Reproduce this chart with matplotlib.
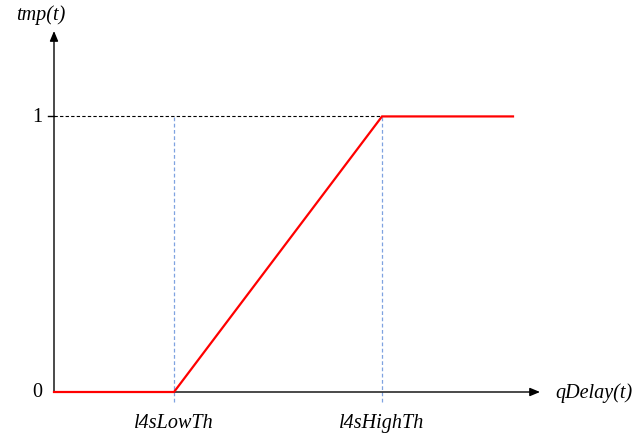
import matplotlib
matplotlib.use("Agg")
import matplotlib.pyplot as plt

# data (x in arbitrary delay units, origin at 0)
low_th = 120
high_th = 328
x_end = 459
x_axis_max = 486
y_axis_max = 1.31
curve_x = [0, low_th, high_th, x_end]
curve_y = [0, 0, 1, 1]
xtick_labels = ["l4sLowTh", "l4sHighTh"]
ytick_labels = ["0", "1"]

W, H = 634, 439
fig = plt.figure(figsize=(W / 100, H / 100), dpi=100)
left, bottom = 54 / W, 1 - 393 / H
ax = fig.add_axes([left, bottom, (540 - 54) / W, (393 - 32) / H])
ax.set_xlim(0, x_axis_max)
ax.set_ylim(0, y_axis_max)
ax.axis("off")

font = dict(family="Liberation Serif", fontsize=14.5)

# axes arrows
ax.annotate("", xy=(x_axis_max, 0), xytext=(0, 0),
            arrowprops=dict(arrowstyle="-|>,head_length=0.6,head_width=0.25",
                            color="black", lw=1.0, shrinkA=0, shrinkB=0),
            annotation_clip=False)
ax.annotate("", xy=(0, y_axis_max), xytext=(0, 0),
            arrowprops=dict(arrowstyle="-|>,head_length=0.6,head_width=0.25",
                            color="black", lw=1.0, shrinkA=0, shrinkB=0),
            annotation_clip=False)

# horizontal dashed at 1
ax.plot([0, high_th], [1, 1], color="black", lw=0.8, ls=(0, (3, 2)))
# vertical blue dashed
for xv in (low_th, high_th):
    ax.plot([xv, xv], [-0.037, 1], color="#7fa2e0", lw=0.9, ls=(0, (3, 2)),
            clip_on=False)

# tick mark at y=1
ax.plot([-6, 0], [1, 1], color="black", lw=1.0, clip_on=False)

# red curve
ax.plot(curve_x, curve_y, color="#ff0000", lw=1.6, solid_joinstyle="miter",
        clip_on=False, zorder=5)

# labels
ax.text(-12, 0, ytick_labels[0], ha="right", va="center", **font)
ax.text(-12, 1, ytick_labels[1], ha="right", va="center", **font)
ax.text(low_th, -0.112, xtick_labels[0], ha="center", va="center",
        style="italic", **font)
ax.text(high_th, -0.112, xtick_labels[1], ha="center", va="center",
        style="italic", **font)
ax.text(x_axis_max + 15, 0, "qDelay(t)", ha="left", va="center",
        style="italic", **font)
ax.text(-13, y_axis_max + 0.062, "tmp(t)", ha="center", va="center",
        style="italic", **font)

fig.savefig("out.png", dpi=100)
